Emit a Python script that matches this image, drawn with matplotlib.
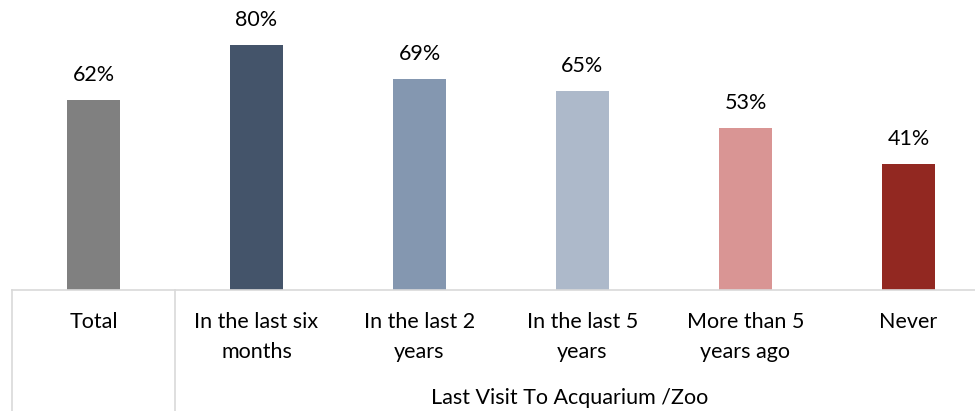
import matplotlib.pyplot as plt
from matplotlib.transforms import blended_transform_factory

categories = ["Total", "In the last six\nmonths", "In the last 2\nyears",
              "In the last 5\nyears", "More than 5\nyears ago", "Never"]
values = [62, 80, 69, 65, 53, 41]
colors = ["#808080", "#44546A", "#8497B0", "#ADB9CA", "#D99594", "#922821"]
group_title = "Last Visit To Acquarium /Zoo"

plt.rcParams["font.family"] = ["Lato", "DejaVu Sans"]

W, H = 975, 411
fig = plt.figure(figsize=(W / 100, H / 100), dpi=100)
# axes run a little past the right edge, as in the reference
ax = fig.add_axes([12 / W, 121 / H, 978 / W, 290 / H])

x = list(range(len(categories)))
ax.bar(x, values, width=0.325, color=colors)
ax.set_xlim(-0.5, len(categories) - 0.5)
ax.set_ylim(0, 94.7)

for xi, v in zip(x, values):
    ax.annotate(f"{v}%", xy=(xi, v), xytext=(0, 18), textcoords="offset points",
                ha="center", va="center", fontsize=15.5, color="#000000")

for s in ["top", "right", "left"]:
    ax.spines[s].set_visible(False)
ax.spines["bottom"].set_color("#D9D9D9")
ax.spines["bottom"].set_linewidth(1.2)
ax.set_xticks([])
ax.set_yticks([])

trans = blended_transform_factory(ax.transData, ax.transAxes)
depth = -121 / 290
for xv in [-0.5, 0.5]:
    ax.plot([xv, xv], [0, depth], transform=trans, color="#D9D9D9",
            linewidth=1.2, clip_on=False)

for xi, lab in zip(x, categories):
    ax.text(xi, -22 / 290, lab, transform=trans, ha="center", va="top",
            fontsize=15.5, linespacing=1.6, color="#000000")

ax.text(2.92, -108 / 290, group_title, transform=trans, ha="center",
        va="center", fontsize=15.5, color="#000000")

fig.savefig("out.png", dpi=100)
